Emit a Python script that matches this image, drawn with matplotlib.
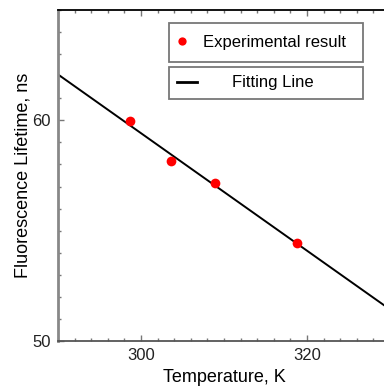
import matplotlib

matplotlib.use("Agg")
import matplotlib.pyplot as plt
from matplotlib.ticker import MultipleLocator

plt.rcParams["font.family"] = ["Liberation Sans", "DejaVu Sans"]

temps_k = [298.7, 303.6, 308.9, 318.8]
lifetime_ns = [59.95, 58.15, 57.14, 54.44]

# fitting line end points as drawn
fit_x = [290.0, 330.0]
fit_y = [62.08, 51.43]

fig = plt.figure(figsize=(3.84, 3.87), dpi=100)
ax = fig.add_axes([58 / 384, 46 / 387, 332 / 384, 331 / 387])

ax.plot(fit_x, fit_y, color="black", lw=1.4, label="Fitting Line", zorder=2)
ax.plot(temps_k, lifetime_ns, "o", color="#ff0000", ms=7, mec="none",
        label="Experimental result", zorder=3)

ax.set_xlim(290, 330)
ax.set_ylim(50, 65)
ax.xaxis.set_major_locator(MultipleLocator(20))
ax.xaxis.set_minor_locator(MultipleLocator(2))
ax.yaxis.set_major_locator(MultipleLocator(10))
ax.yaxis.set_minor_locator(MultipleLocator(1))
ax.tick_params(which="both", direction="in", top=True, right=False,
               colors="#777777", labelcolor="#222222", labelsize=12)
ax.tick_params(which="major", length=4, width=1, pad=5)
ax.tick_params(which="minor", length=2, width=1)

ax.spines["top"].set_color("black")
ax.spines["top"].set_linewidth(1.3)
ax.spines["left"].set_color("#888888")
ax.spines["left"].set_linewidth(2)
ax.spines["bottom"].set_color("#555555")
ax.spines["bottom"].set_linewidth(1.3)
ax.spines["right"].set_visible(False)

ax.set_xlabel("Temperature, K", fontsize=13, labelpad=4)
ax.set_ylabel("Fluorescence Lifetime, ns", fontsize=13, labelpad=1)

h, l = ax.get_legend_handles_labels()
common = dict(loc="center", mode="expand", fontsize=12, frameon=True,
              fancybox=False, framealpha=1, edgecolor="#777777",
              borderaxespad=0, bbox_transform=fig.transFigure)
leg1 = ax.legend([h[1]], [l[1]], bbox_to_anchor=(169 / 384, 326 / 387, 194 / 384, 37 / 387),
                 handlelength=0.2, handletextpad=1.14, borderpad=0.7, markerscale=0.85,
                 **common)
leg1.get_frame().set_linewidth(1.3)
ax.add_artist(leg1)
leg2 = ax.legend([h[0]], [l[0]], bbox_to_anchor=(169 / 384, 288 / 387, 194 / 384, 32 / 387),
                 handlelength=1.2, handletextpad=2.1, borderpad=0.5, **common)
leg2.get_frame().set_linewidth(1.3)
for line in leg2.get_lines():
    line.set_linewidth(2)

fig.savefig("out.png", dpi=100)
plt.close(fig)
